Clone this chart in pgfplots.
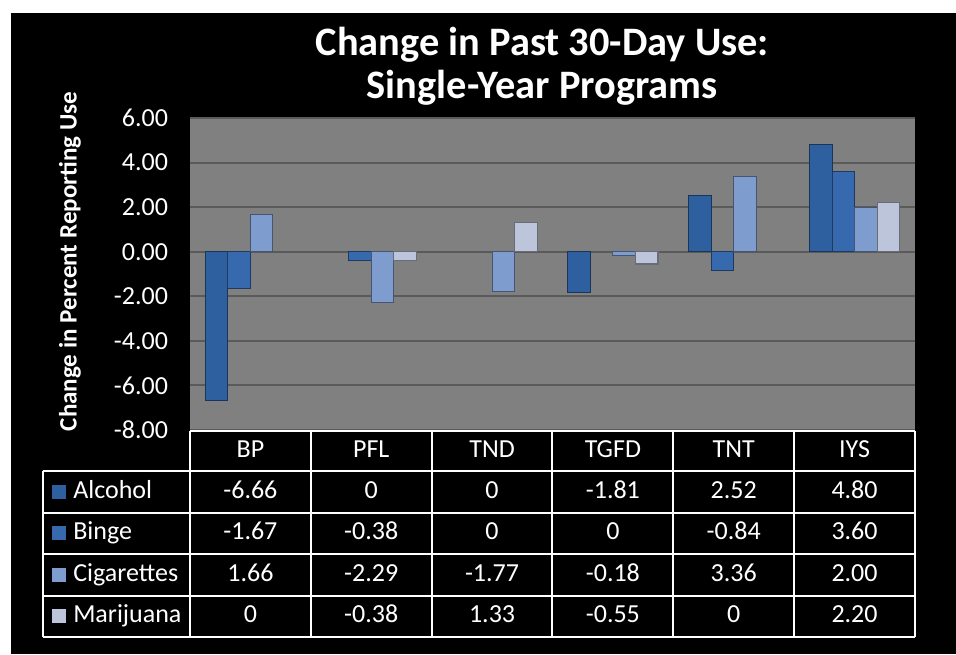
\documentclass[border=0pt]{standalone}
\usepackage{fontspec}
\setmainfont{Carlito}
\usepackage{pgfplots}
\pgfplotsset{compat=1.18}
\definecolor{plotgray}{HTML}{808080}
\definecolor{gridgray}{HTML}{5A5A5A}
\definecolor{alc}{HTML}{2E609F}
\definecolor{binge}{HTML}{3769AE}
\definecolor{cig}{HTML}{7F9CCF}
\definecolor{mar}{HTML}{BCC5D9}

\begin{document}
% units: 1 = one pixel of the reference, y measured up from the bottom (654 - y_px)
\begin{tikzpicture}[x=0.75pt,y=0.75pt]
\fill[white] (0,0) rectangle (956,654);
\fill[black] (11,0) rectangle (956,641);

\begin{axis}[
  at={(142.5pt,168pt)}, anchor=south west,
  scale only axis, width=543.75pt, height=234pt,
  xmin=-0.5, xmax=5.5, ymin=-8, ymax=6,
  ybar=0pt, bar width=16.9pt,
  y filter/.expression={y==0 ? nan : y},
  unbounded coords=discard,
  axis background/.style={fill=plotgray},
  axis line style={draw=none},
  xtick=\empty,
  ytick={-8,-6,...,6},
  ymajorgrids, major grid style={gridgray, line width=1.5pt},
  major tick length=0pt,
  yticklabel style={
    /pgf/number format/.cd, fixed, fixed zerofill, precision=2, assume math mode=true,
    /tikz/.cd, font=\fontsize{19.5}{22}\selectfont, text=white, xshift=-13pt},
  ylabel={\textbf{Change in Percent Reporting Use}},
  ylabel style={font=\fontsize{18.8}{22}\selectfont, text=white,
    at={(axis description cs:-0.1655,0.54)}, anchor=center, rotate=0},
  title={\textbf{Change in Past 30-Day Use:}\\\textbf{Single-Year Programs}},
  title style={font=\fontsize{30.3}{32.5}\selectfont, text=white, align=center,
    at={(axis description cs:0.486,1.0)}, anchor=south, yshift=0pt},
  clip=false,
]
\addplot[fill=alc, draw=alc!55!black, line width=0.8pt]
  coordinates {(0,-6.66) (1,0) (2,0) (3,-1.81) (4,2.52) (5,4.80)};
\addplot[fill=binge, draw=binge!55!black, line width=0.8pt]
  coordinates {(0,-1.67) (1,-0.38) (2,0) (3,0) (4,-0.84) (5,3.60)};
\addplot[fill=cig, draw=cig!55!black, line width=0.8pt]
  coordinates {(0,1.66) (1,-2.29) (2,-1.77) (3,-0.18) (4,3.36) (5,2.00)};
\addplot[fill=mar, draw=mar!55!black, line width=0.8pt]
  coordinates {(0,0) (1,-0.38) (2,1.33) (3,-0.55) (4,0) (5,2.20)};
\end{axis}

% data table
\begin{scope}[font=\fontsize{19.5}{22}\selectfont, text=white,
  every node/.style={text height=13pt, text depth=3.5pt, inner sep=0pt}]
\draw[white, line width=1.5pt] (190,223) -- (915,223);
\foreach \y in {183,141.5,100,58.5,17}
  \draw[white, line width=1.5pt] (43,\y) -- (915,\y);
\foreach \k in {0,...,6}
  \draw[white, line width=1.5pt] ({190+\k*120.83},223) -- ({190+\k*120.83},17);
\draw[white, line width=1.5pt] (43,183) -- (43,17);
\foreach \c [count=\k from 0] in {BP,PFL,TND,TGFD,TNT,IYS}
  \node at ({250.4+\k*120.83},203) {\c};
\foreach \name/\col/\vals [count=\r from 0] in {
    Alcohol/alc/{-6.66,0,0,-1.81,2.52,4.80},
    Binge/binge/{-1.67,-0.38,0,0,-0.84,3.60},
    Cigarettes/cig/{1.66,-2.29,-1.77,-0.18,3.36,2.00},
    Marijuana/mar/{0,-0.38,1.33,-0.55,0,2.20}} {
  \pgfmathsetmacro{\yc}{162.25-\r*41.5}
  \fill[\col] (52,\yc-7) rectangle (66,\yc+7);
  \node[anchor=west] at (73,\yc) {\name};
  \foreach \v [count=\k from 0] in \vals
    \node at ({250.4+\k*120.83},\yc) {\v};
}
\end{scope}
\end{tikzpicture}
\end{document}
